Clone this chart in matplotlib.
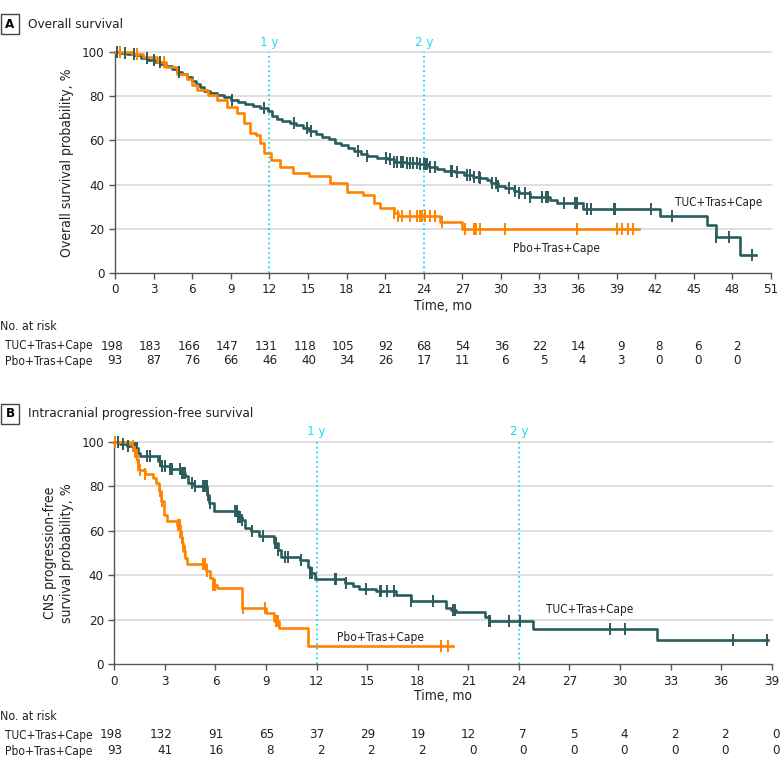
import numpy as np
import matplotlib
matplotlib.use('Agg')
import matplotlib.pyplot as plt
import matplotlib.transforms as mtransforms
from matplotlib import font_manager as fm

# the reference uses a condensed sans; take one if the system has it
narrow = [f for f in fm.fontManager.ttflist
          if ('Condensed' in f.fname or 'Narrow' in f.fname)
          and 'Mono' not in f.fname and 'Serif' not in f.fname
          and f.style == 'normal' and f.weight in (400, 'normal', 'regular')]
if narrow:
    plt.rcParams['font.family'] = [narrow[0].name, 'DejaVu Sans']
    plt.rcParams['font.stretch'] = narrow[0].stretch
else:
    plt.rcParams['font.family'] = ['Roboto', 'DejaVu Sans']
FS = 9.5      # numbers
FT = 10.0     # words, shrunk below to the widths seen in the reference

TEAL = '#2b5c5c'
ORANGE = '#ff8300'
CYAN = '#22d8f0'
GRID = '#d9d9d9'
SPINE = '#555555'
INK = '#222222'

groups = ['TUC+Tras+Cape', 'Pbo+Tras+Cape']

# ---- Panel A: overall survival ----
os_tuc_t = [0, 0.4, 0.9, 1.5, 2.0, 2.6, 3.1, 3.6, 4.0, 4.4, 4.8, 5.2, 5.6, 6.0, 6.3, 6.6,
            6.9, 7.4, 7.9, 8.5, 9.0, 9.6, 10.1, 10.7, 11.3, 11.9, 12.2, 12.6, 13.0, 13.6,
            14.1, 14.6, 15.1, 15.6, 16.1, 16.6, 17.1, 17.6, 18.1, 18.6, 19.1, 19.6, 20.4,
            21.2, 21.7, 22.6, 23.6, 24.4, 25.0, 25.6, 26.4, 27.1, 27.8, 28.4, 28.9, 29.2,
            29.8, 30.3, 31.0, 31.4, 32.3, 33.8, 34.4, 36.4, 42.4, 46.0, 46.7, 48.6]
os_tuc_s = [100, 99.5, 99, 98.5, 97.5, 96.5, 95.5, 94.5, 93.5, 92.5, 91, 90, 88.5, 87, 85.5, 84,
            82.5, 81.5, 80.5, 79.5, 78.5, 77.5, 76.5, 75.5, 74.5, 73.5, 71, 69.8, 68.8, 67.8,
            66.8, 65.5, 64.3, 63, 61.7, 60.5, 59, 57.8, 56.5, 55.2, 54, 52.8, 52.2,
            51.4, 50.4, 49.7, 49.2, 48.1, 46.9, 46.3, 45.7, 44.4, 43.6, 42.8, 42.1, 40.6,
            39.4, 38.3, 37, 36.1, 34.6, 33.1, 31.6, 29.0, 25.6, 21.5, 16.2, 8.3]
os_tuc_end = 49.8
os_tuc_cens = [0.16, 0.8, 1.45, 2.5, 3.0, 3.5, 4.95, 9.1, 11.55, 13.9, 14.9, 15.2, 18.9, 19.6,
               21.1, 21.4, 21.7, 21.9, 22.2, 22.4, 22.7, 22.95, 23.2, 23.5, 23.7, 24.0, 24.2,
               24.26, 24.5, 24.9, 26.1, 26.2, 26.6, 27.4, 27.6, 27.9, 28.3, 28.4, 29.3, 29.6,
               29.8, 30.6, 31.1, 31.4, 31.9, 32.3, 33.2, 33.5, 33.7, 34.9, 35.8, 35.9, 36.7,
               37.0, 38.8, 38.9, 41.7, 43.3, 46.7, 47.7, 49.5]

os_pbo_t = [0, 1.3, 2.2, 3.3, 4.0, 4.8, 5.6, 6.0, 6.4, 7.2, 7.9, 8.7, 9.5, 10.0, 10.5, 11.0,
            11.3, 11.6, 12.1, 12.8, 13.8, 15.1, 16.7, 18.0, 19.3, 20.1, 20.6, 21.7, 22.0,
            25.3, 27.0]
os_pbo_s = [100, 99, 97.7, 95.5, 93.2, 90.2, 88, 85, 82.7, 80.5, 78.2, 75.2, 72.2, 67.7, 63.2, 62.4,
            58.6, 54.1, 51.1, 48.1, 45.4, 43.9, 40.6, 36.8, 35.3, 31.6, 29.3, 27.1, 25.6,
            23.3, 20.0]
os_pbo_end = 40.7
os_pbo_cens = [0.4, 1.7, 3.8, 21.7, 22.0, 22.3, 22.95, 23.5, 23.7, 23.9, 24.1, 24.5, 24.9, 25.4,
               27.2, 27.9, 28.1, 28.4, 30.3, 35.9, 39.0, 39.4, 39.9, 40.3]

os_ticks = [0, 3, 6, 9, 12, 15, 18, 21, 24, 27, 30, 33, 36, 39, 42, 45, 48, 51]
os_risk_tuc = [198, 183, 166, 147, 131, 118, 105, 92, 68, 54, 36, 22, 14, 9, 8, 6, 2]
os_risk_pbo = [93, 87, 76, 66, 46, 40, 34, 26, 17, 11, 6, 5, 4, 3, 0, 0, 0]

# ---- Panel B: intracranial PFS ----
pfs_tuc_t = [0, 0.35, 0.75, 1.13, 1.4, 1.5, 2.6, 2.8, 3.3, 3.9, 4.2, 4.4, 4.7, 5.5, 5.6, 5.9,
             7.35, 7.55, 7.75, 8.1, 8.6, 9.45, 9.7, 9.9, 11.0, 11.5, 11.6, 11.9, 13.7, 14.15,
             14.5, 15.5, 16.7, 17.6, 19.7, 20.0, 20.3, 22.0, 22.2, 24.85, 32.2]
pfs_tuc_s = [100, 99.2, 98.3, 97.3, 95, 93.8, 91.3, 89, 87.8, 86, 84.5, 81.6, 80, 76.3, 72.5, 68.8,
             66.5, 65, 61.3, 59.8, 57.9, 54.5, 51.5, 48.5, 47, 44, 41, 38.3, 36.6, 35.1,
             33.9, 32.8, 31.3, 28.4, 25.4, 24.5, 23.4, 21.5, 19.4, 16.1, 10.9]
pfs_tuc_end = 38.8
pfs_tuc_cens = [0.24, 0.53, 0.83, 1.23, 1.32, 1.92, 2.11, 2.71, 2.81, 3.0, 3.3, 3.4, 3.89, 3.99,
                4.09, 4.19, 4.58, 4.78, 5.28, 5.38, 5.47, 5.57, 5.67, 7.15, 7.25, 7.35, 7.45,
                7.55, 8.14, 8.83, 9.53, 9.62, 9.72, 10.12, 10.32, 11.1, 11.6, 11.7, 13.08,
                13.18, 13.77, 14.95, 15.75, 15.85, 16.2, 16.6, 17.6, 18.9, 20.1, 20.2, 22.2,
                22.3, 23.4, 24.06, 29.4, 30.3, 36.7, 38.7]

pfs_pbo_t = [0, 0.93, 1.13, 1.22, 1.28, 1.33, 1.38, 1.48, 1.8, 2.3, 2.5, 2.67, 2.8, 2.95, 3.1,
             3.7, 3.9, 4.0, 4.1, 4.2, 4.3, 5.45, 5.65, 5.85, 6.1, 7.6, 9.0, 9.5, 9.8, 11.5]
pfs_pbo_s = [100, 99, 98, 95.5, 94.3, 92, 89.8, 87.5, 85.6, 83.8, 81.6, 77.8, 73.3, 67.3, 64.3,
             62.8, 57.5, 54.5, 50.8, 47.8, 45, 41.8, 38.8, 35.8, 34.3, 25.3, 23, 19.7, 16.3, 8.2]
pfs_pbo_end = 20.1
pfs_pbo_cens = [0.04, 1.13, 1.23, 1.32, 1.38, 1.46, 1.52, 1.82, 2.71, 2.81, 3.79, 3.89, 3.99,
                4.09, 4.19, 5.28, 5.38, 5.47, 5.87, 5.97, 7.65, 8.93, 9.62, 9.72, 19.4, 19.8]

pfs_ticks = [0, 3, 6, 9, 12, 15, 18, 21, 24, 27, 30, 33, 36, 39]
pfs_risk_tuc = [198, 132, 91, 65, 37, 29, 19, 12, 7, 5, 4, 2, 2, 0]
pfs_risk_pbo = [93, 41, 16, 8, 2, 2, 2, 0, 0, 0, 0, 0, 0, 0]

W, H = 780, 769
fig = plt.figure(figsize=(W / 100, H / 100), dpi=100)
renderer = fig.canvas.get_renderer()


def fit(t, max_px):
    # shrink a word label until it is no wider than in the reference
    w = t.get_window_extent(renderer).width
    if w > max_px:
        t.set_fontsize(t.get_fontsize() * max_px / w)
    return t


def km(ax, t, s, end, cens, color):
    t = np.append(t, end)
    s = np.append(s, s[-1])
    ax.plot(t, s, drawstyle='steps-post', color=color, lw=1.9, clip_on=False, zorder=3)
    idx = np.searchsorted(t, cens, side='right') - 1
    ax.plot(cens, s[idx], ls='none', marker='|', ms=8, mew=1.4, color=color,
            clip_on=False, zorder=4)


def panel(rect, letter, title, title_w, ylabel, ylab_x, xmax, ticks, curves, labels, risk,
          y_rows, y_time, y_title):
    ax = fig.add_axes(rect)
    ax.set_xlim(0, xmax)
    ax.set_ylim(0, 100)
    ax.set_yticks([0, 20, 40, 60, 80, 100])
    ax.set_xticks(ticks)
    for v in [20, 40, 60, 80, 100]:
        ax.axhline(v, color=GRID, lw=1.2, zorder=0, clip_on=False)
    for sp in ['top', 'right']:
        ax.spines[sp].set_visible(False)
    for sp in ['left', 'bottom']:
        ax.spines[sp].set_color(SPINE)
        ax.spines[sp].set_linewidth(1.0)
    ax.tick_params(colors=SPINE, labelcolor=INK, labelsize=FS, length=4, width=1.0)
    ax.set_ylabel(ylabel, fontsize=FS + 0.5, color=INK)
    ax.yaxis.set_label_coords(ylab_x, 0.5)
    for m, lab in [(12, '1 y'), (24, '2 y')]:
        ax.axvline(m, ymin=0, ymax=1, color=CYAN, ls=':', lw=1.3, zorder=1)
        ax.text(m, 104.5, lab, color=CYAN, ha='center', va='center', fontsize=FS,
                clip_on=False)
    for c in curves:
        km(ax, *c)
    for txt, x, y in labels:
        fit(ax.text(x, y, txt, fontsize=FT, color=INK, ha='center', va='center'), 87)

    # header
    fig.text(10 / W, 1 - y_title / H, letter, fontsize=FS, fontweight='bold', ha='center',
             va='center', bbox=dict(boxstyle='square,pad=0.3', fc='white', ec='#444444', lw=1))
    fit(fig.text(28 / W, 1 - y_title / H, title, fontsize=FT + 1, color=INK, ha='left',
                 va='center'), title_w)
    fit(fig.text((rect[0] + rect[2] / 2), 1 - y_time / H, 'Time, mo', fontsize=FT + 0.5,
                 color=INK, ha='center', va='center'), 58)

    # number at risk table
    trans = mtransforms.blended_transform_factory(ax.transData, fig.transFigure)
    trans = mtransforms.offset_copy(trans, fig=fig, x=8, y=0, units='dots')
    fit(fig.text(0, 1 - y_rows[0] / H, 'No. at risk', fontsize=FT, color=INK,
                 ha='left', va='center'), 57)
    for g, row, yy in zip(groups, risk, y_rows[1:]):
        fit(fig.text(5 / W, 1 - yy / H, g, fontsize=FT, color=INK, ha='left',
                     va='center'), 88)
        for tk, n in zip(ticks, row):
            ax.text(tk, 1 - yy / H, str(n), transform=trans, fontsize=FS,
                    color=INK, ha='right', va='center')
    return ax


panel([115 / W, 1 - 273 / H, 656 / W, 221 / H], 'A', 'Overall survival', 95,
      'Overall survival probability, %', -0.062, 51, os_ticks,
      [(os_tuc_t, os_tuc_s, os_tuc_end, os_tuc_cens, TEAL),
       (os_pbo_t, os_pbo_s, os_pbo_end, os_pbo_cens, ORANGE)],
      [('TUC+Tras+Cape', 46.9, 32.1), ('Pbo+Tras+Cape', 34.3, 11.3)],
      [os_risk_tuc, os_risk_pbo], [327, 346, 361], 306, 24)

panel([114.3 / W, 1 - 664.4 / H, 657.4 / W, 222.4 / H], 'B',
      'Intracranial progression-free survival', 224,
      'CNS progression-free\nsurvival probability, %', -0.062, 39, pfs_ticks,
      [(pfs_tuc_t, pfs_tuc_s, pfs_tuc_end, pfs_tuc_cens, TEAL),
       (pfs_pbo_t, pfs_pbo_s, pfs_pbo_end, pfs_pbo_cens, ORANGE)],
      [('TUC+Tras+Cape', 28.2, 24.9), ('Pbo+Tras+Cape', 15.8, 12.3)],
      [pfs_risk_tuc, pfs_risk_pbo], [717, 735, 751], 696, 414)

fig.savefig('out.png', dpi=100)
